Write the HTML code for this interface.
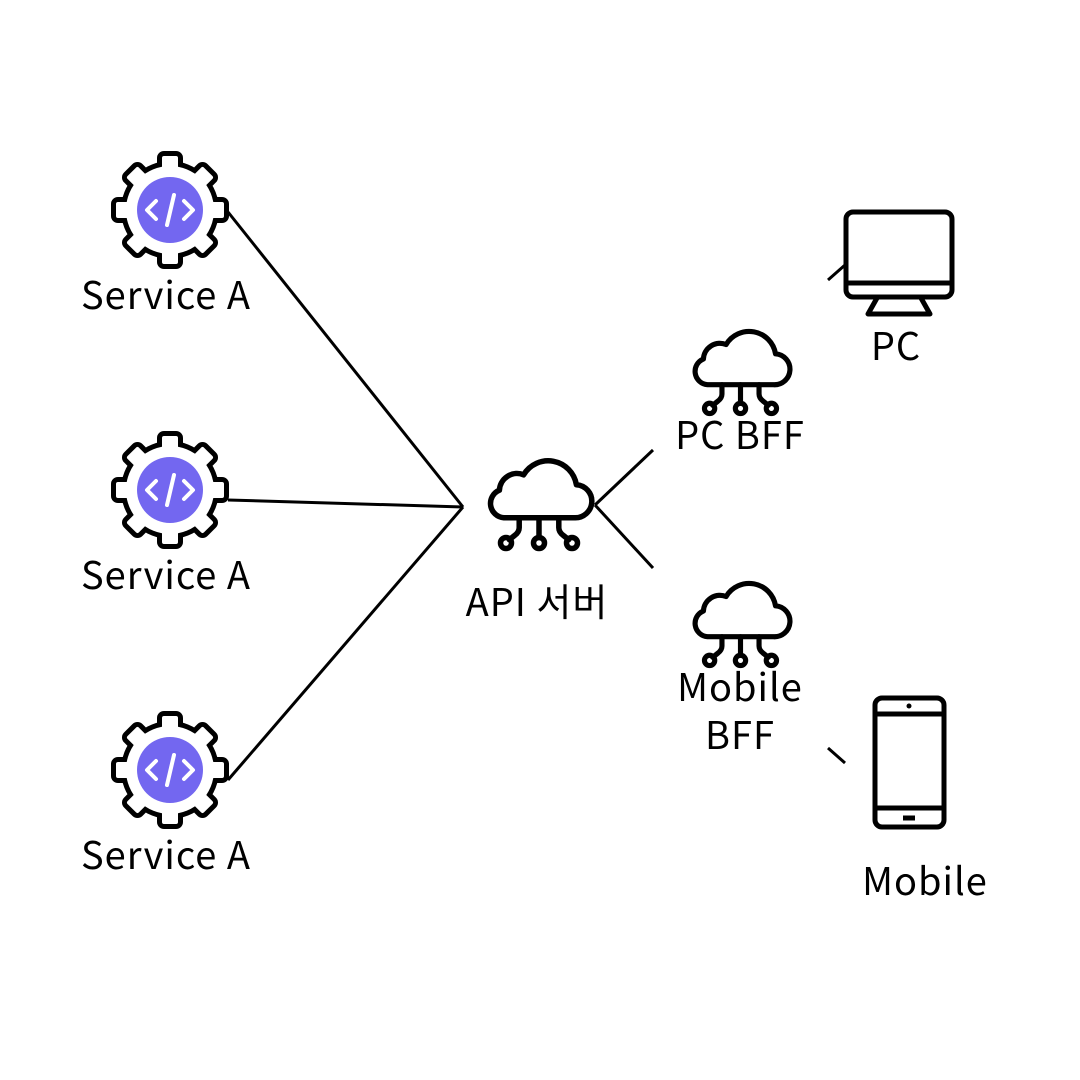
<!DOCTYPE html>
<html><head><meta charset="utf-8"><style>
html,body{margin:0;padding:0;background:#fff;}
svg{display:block}
text{font-family:"Noto Sans CJK KR","Liberation Sans",sans-serif;font-size:38px;letter-spacing:1px;fill:#000;}
</style></head><body>
<svg width="1080" height="1080" viewBox="0 0 1080 1080" xmlns="http://www.w3.org/2000/svg">
<defs>
<g id="gshape">
  <circle r="44"/>
  <rect x="-8" y="-54" width="16" height="30" rx="2"/>
  <rect x="-8" y="-54" width="16" height="30" rx="2" transform="rotate(45)"/>
  <rect x="-8" y="-54" width="16" height="30" rx="2" transform="rotate(90)"/>
  <rect x="-8" y="-54" width="16" height="30" rx="2" transform="rotate(135)"/>
  <rect x="-8" y="-54" width="16" height="30" rx="2" transform="rotate(180)"/>
  <rect x="-8" y="-54" width="16" height="30" rx="2" transform="rotate(225)"/>
  <rect x="-8" y="-54" width="16" height="30" rx="2" transform="rotate(270)"/>
  <rect x="-8" y="-54" width="16" height="30" rx="2" transform="rotate(315)"/>
</g>
<g id="gear">
  <use href="#gshape" fill="#000" stroke="#000" stroke-width="10" stroke-linejoin="round"/>
  <use href="#gshape" fill="#fff"/>
  <circle r="33" fill="#7367f0"/>
  <g stroke="#fff" stroke-width="4" fill="none" stroke-linecap="round" stroke-linejoin="round">
    <path d="M-14,-9 L-23,0 L-14,9"/>
    <path d="M14,-9 L23,0 L14,9"/>
    <path d="M4,-15 L-3,15"/>
  </g>
</g>
<g id="cloud" fill="none" stroke="#000" stroke-width="5" stroke-linejoin="round" stroke-linecap="round">
  <path d="M18,57 H82 A15,15 0 0 0 84,27 A26,26 0 0 0 36,18 A16,16 0 0 0 14,32 A13,13 0 0 0 18,57 Z" fill="#fff"/>
  <path d="M32,57 V66 Q32,70 28,73 L23,77"/>
  <path d="M50,57 V75"/>
  <path d="M68,57 V66 Q68,70 72,73 L77,77"/>
  <circle cx="20" cy="80" r="5"/>
  <circle cx="50" cy="80" r="5"/>
  <circle cx="80" cy="80" r="5"/>
</g>
</defs>
<g stroke="#000" stroke-width="3" fill="none">
  <line x1="228" y1="212" x2="463" y2="507"/>
  <line x1="228" y1="500" x2="463" y2="507"/>
  <line x1="228" y1="780" x2="463" y2="507"/>
  <line x1="595" y1="505" x2="653" y2="450"/>
  <line x1="595" y1="505" x2="653" y2="568"/>
  <line x1="828" y1="280" x2="845" y2="265"/>
  <line x1="828" y1="748" x2="845" y2="763"/>
</g>
<use href="#gear" transform="translate(170,210)"/>
<use href="#gear" transform="translate(170,490)"/>
<use href="#gear" transform="translate(170,770)"/>
<text x="166" y="309" text-anchor="middle">Service A</text>
<text x="166" y="589" text-anchor="middle">Service A</text>
<text x="166" y="869" text-anchor="middle">Service A</text>
<use href="#cloud" transform="translate(484,455) scale(1.1)"/>
<text x="537" y="616" text-anchor="middle">API 서버</text>
<use href="#cloud" transform="translate(689,326) scale(1.03)"/>
<text x="740" y="449" text-anchor="middle">PC BFF</text>
<use href="#cloud" transform="translate(689,578) scale(1.03)"/>
<text x="740" y="701" text-anchor="middle">Mobile</text>
<text x="740" y="749" text-anchor="middle">BFF</text>
<g fill="none" stroke="#000" stroke-width="5" stroke-linejoin="round">
  <rect x="846" y="212" width="106" height="85" rx="7" fill="#fff"/>
  <line x1="846" y1="283" x2="952" y2="283"/>
  <path d="M877,298 L868,314 H930 L921,298"/>
  <rect x="875" y="698" width="69" height="129" rx="7" fill="#fff"/>
  <line x1="875" y1="714" x2="944" y2="714"/>
  <line x1="875" y1="808" x2="944" y2="808"/>
  <line x1="903" y1="818" x2="915" y2="818"/>
</g>
<circle cx="909" cy="706" r="2.5" fill="#000"/>
<text x="896" y="360" text-anchor="middle">PC</text>
<text x="925" y="895" text-anchor="middle">Mobile</text>
</svg>
</body></html>
